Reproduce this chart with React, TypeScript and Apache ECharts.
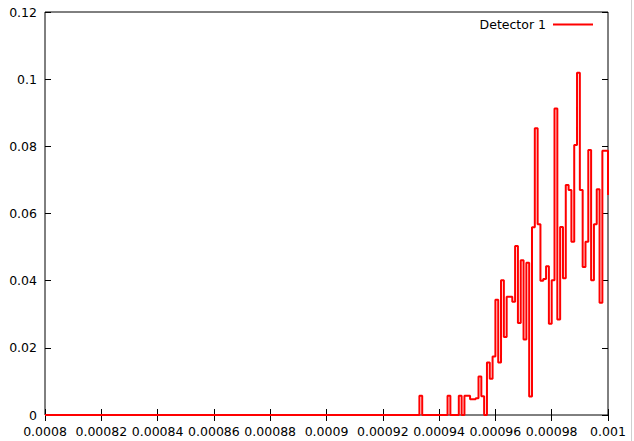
import React, { useEffect, useRef } from "react";
import * as echarts from "echarts";

// Histogram bins (width 1e-6), starting at the first bin that is drawn above zero
const binStart = 0.000933;
const binWidth = 0.000001;
const detector1 = [
  0.0057, 0, 0, 0, 0, 0, 0, 0, 0, 0,
  0.0057, 0, 0, 0,
  0.0057, 0,
  0.0057, 0.0057, 0.0047, 0.0047, 0.005, 0.0115, 0.0056, 0,
  0.0156, 0.0108, 0.0174, 0.0343, 0.0156, 0.0401, 0.0232, 0.0352, 0.0352, 0.0337,
  0.0503, 0.0274, 0.0461, 0.0225, 0.0453, 0.0055, 0.0559, 0.0854, 0.0568, 0.04,
  0.0405, 0.0443, 0.0272, 0.0401, 0.0913, 0.0284, 0.056, 0.0407, 0.0685, 0.067,
  0.0516, 0.0804, 0.1019, 0.067, 0.0441, 0.0516, 0.0789, 0.0401, 0.0568, 0.0672,
  0.0334, 0.0787, 0.0787,
];
const edgeValue = 0.0655; // value of the next bin, starting at the right edge
const xMin = 0.0008;
const xMax = 0.001;
const xStep = 0.00002;
const yMin = 0;
const yMax = 0.12;
const yStep = 0.02;
const seriesName = "Detector 1";

const FONT = "DejaVu Sans";

export default function App() {
  const ref = useRef<HTMLDivElement>(null);
  useEffect(() => {
    if (!ref.current) return;
    const chart = echarts.init(ref.current, undefined, { renderer: "svg" });
    const data: number[][] = [[xMin, 0]];
    detector1.forEach((v, i) => {
      data.push([+(binStart + i * binWidth).toPrecision(8), v]);
    });
    data.push([xMax, edgeValue]);

    const fmt = (v: number) => String(parseFloat(Number(v).toPrecision(6)));
    const tickStyle = { show: true, inside: true, length: 6, lineStyle: { color: "#000", width: 1 } };

    chart.setOption({
      animation: false,
      backgroundColor: "#fff",
      textStyle: { fontFamily: FONT },
      grid: {
        left: 45,
        right: 26,
        top: 12,
        bottom: 26,
        show: true,
        borderColor: "#000",
        borderWidth: 1,
        backgroundColor: "transparent",
      },
      legend: {
        show: true,
        data: [seriesName],
        right: 36,
        top: 13,
        align: "right",
        icon: "rect",
        itemWidth: 40,
        itemHeight: 2,
        textStyle: { fontFamily: FONT, fontSize: 12.5, color: "#000", padding: [0, 2, 0, 0] },
        itemStyle: { color: "#ff0000" },
      },
      xAxis: [
        {
          type: "value",
          position: "bottom",
          min: xMin,
          max: xMax,
          interval: xStep,
          axisLine: { show: false },
          axisTick: tickStyle,
          splitLine: { show: false },
          axisLabel: { color: "#000", fontFamily: FONT, fontSize: 12.5, margin: 10, formatter: fmt },
        },
        {
          type: "value",
          position: "top",
          min: xMin,
          max: xMax,
          interval: xStep,
          axisLine: { show: false },
          axisTick: tickStyle,
          splitLine: { show: false },
          axisLabel: { show: false },
        },
      ],
      yAxis: [
        {
          type: "value",
          position: "left",
          min: yMin,
          max: yMax,
          interval: yStep,
          axisLine: { show: false },
          axisTick: tickStyle,
          splitLine: { show: false },
          axisLabel: { color: "#000", fontFamily: FONT, fontSize: 12.5, margin: 8, formatter: fmt },
        },
        {
          type: "value",
          position: "right",
          min: yMin,
          max: yMax,
          interval: yStep,
          axisLine: { show: false },
          axisTick: tickStyle,
          splitLine: { show: false },
          axisLabel: { show: false },
        },
      ],
      series: [
        {
          name: seriesName,
          type: "line",
          step: "end",
          xAxisIndex: 0,
          yAxisIndex: 0,
          data,
          symbol: "none",
          showSymbol: false,
          clip: true,
          color: "#ff0000",
          lineStyle: { color: "#ff0000", width: 2 },
          z: 3,
        },
      ],
      graphic: [
        {
          type: "line",
          shape: { x1: 631.5, y1: 0, x2: 631.5, y2: 441 },
          style: { stroke: "#cfcfcf", lineWidth: 1 },
          silent: true,
        },
      ],
    });
    return () => chart.dispose();
  }, []);
  return (
    <div
      ref={ref}
      style={{ position: "fixed", left: 0, top: 0, width: 634, height: 441, background: "#fff" }}
    />
  );
}
